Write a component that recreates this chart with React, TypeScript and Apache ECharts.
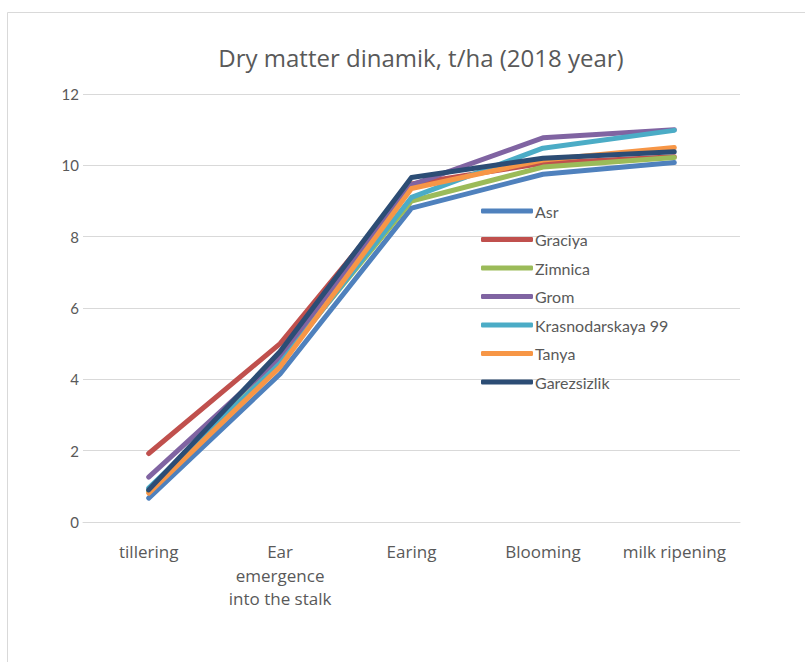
import React, { useEffect, useRef } from "react";
import * as echarts from "echarts";

const categories = ["tillering", "Ear\nemergence\ninto the stalk", "Earing", "Blooming", "milk ripening"];
const seriesNames = ["Asr", "Graciya", "Zimnica", "Grom", "Krasnodarskaya 99", "Tanya", "Garezsizlik"];
const asr = [0.67, 4.15, 8.8, 9.75, 10.08];
const graciya = [1.92, 5.0, 9.48, 10.06, 10.24];
const zimnica = [0.87, 4.5, 9.0, 9.95, 10.22];
const grom = [1.26, 4.62, 9.45, 10.77, 11.0];
const krasnodarskaya = [0.95, 4.45, 9.1, 10.48, 10.98];
const tanya = [0.81, 4.35, 9.35, 10.15, 10.5];
const garezsizlik = [0.9, 4.78, 9.66, 10.2, 10.38];
const seriesValues = [asr, graciya, zimnica, grom, krasnodarskaya, tanya, garezsizlik];
const colors = ["#4f81bd", "#c0504d", "#9bbb59", "#8064a2", "#4bacc6", "#f79646", "#2c4d75"];
const yTicks = { min: 0, max: 12, interval: 2 };

export default function App() {
  const ref = useRef<HTMLDivElement>(null);
  useEffect(() => {
    if (!ref.current) return;
    const chart = echarts.init(ref.current, null, { renderer: "svg" });
    chart.setOption({
      animation: false,
      backgroundColor: "#ffffff",
      graphic: [
        {
          type: "rect",
          shape: { x: 7.5, y: 12.5, width: 900, height: 800 },
          style: { fill: "none", stroke: "#d9d9d9", lineWidth: 1 },
          z: -10,
          silent: true,
        },
      ],
      title: {
        text: "Dry matter dinamik, t/ha (2018 year)",
        left: 416,
        textAlign: "center",
        top: 40,
        textStyle: { fontFamily: "Open Sans", fontSize: 24, fontWeight: "normal", color: "#595959" },
      },
      legend: {
        orient: "vertical",
        left: 476,
        top: 198,
        itemWidth: 52,
        itemHeight: 5,
        itemGap: 12.5,
        icon: "roundRect",
        data: seriesNames,
        textStyle: { fontFamily: "Lato", fontSize: 16, color: "#595959", lineHeight: 16, padding: [0, 0, 0, -3] },
      },
      grid: { left: 83, right: 65, top: 94, bottom: 140 },
      xAxis: {
        type: "category",
        data: categories,
        boundaryGap: true,
        axisLine: { lineStyle: { color: "#d9d9d9", width: 1 } },
        axisTick: { show: false },
        axisLabel: {
          fontFamily: "Open Sans",
          fontSize: 17,
          color: "#595959",
          lineHeight: 23.5,
          margin: 18,
          interval: 0,
        },
      },
      yAxis: {
        type: "value",
        ...yTicks,
        axisLine: { show: false },
        axisTick: { show: false },
        splitLine: { lineStyle: { color: "#d9d9d9", width: 1 } },
        axisLabel: { fontFamily: "Lato", fontSize: 15, color: "#595959", margin: 4 },
      },
      series: seriesNames.map((name, i) => ({
        name,
        type: "line",
        data: seriesValues[i],
        symbol: "none",
        color: colors[i],
        lineStyle: { width: 5, color: colors[i], cap: "round", join: "round" },
      })),
    });
    return () => chart.dispose();
  }, []);
  return <div ref={ref} style={{ position: "fixed", left: 0, top: 0, width: 805, height: 662 }} />;
}
